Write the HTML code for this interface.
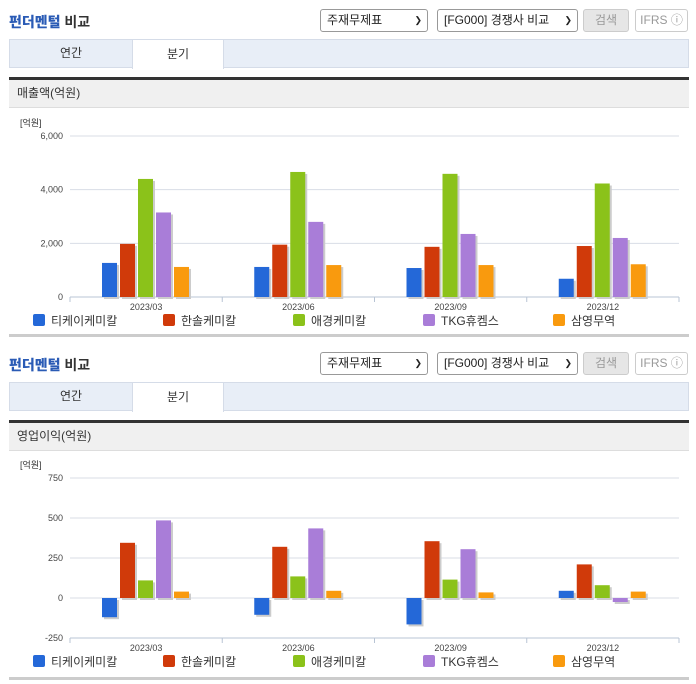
<!DOCTYPE html>
<html><head><meta charset="utf-8">
<style>
*{margin:0;padding:0;box-sizing:border-box}
body{width:696px;height:684px;background:#fff;font-family:"Liberation Sans","Noto Sans CJK KR",sans-serif;position:relative;overflow:hidden}
.abs{position:absolute}
.title{font-size:14px;color:#333;font-weight:bold}
.title b{color:#2a5bb5}
.sel{border:1px solid #999;border-radius:3px;background:#fff;font-size:12px;height:23px;line-height:21px;padding-left:6px;color:#222}
.sel span.ar{position:absolute;right:5px;top:0;font-size:9px}
.btn{border:1px solid #ccc;border-radius:3px;font-size:12px;height:23px;line-height:21px;text-align:center;color:#999}
.tabs{background:#e8eef7;border:1px solid #d5dce8;height:29px}
.tab{position:absolute;top:-1px;height:30px;line-height:28px;text-align:center;font-size:12px;color:#333}
.hdr{background:#f0f0f0;border-top:3px solid #333;height:31px;font-size:12px;color:#333;line-height:27px;padding-left:8px;border-bottom:1px solid #ddd}
.bottomline{height:3px;background:#ccc}
</style></head><body>
<div id="root"></div>
<script>
const categories=['2023/03','2023/06','2023/09','2023/12'];
const seriesNames=['티케이케미칼','한솔케미칼','애경케미칼','TKG휴켐스','삼영무역'];
const colors=['#2468d8','#d03a0a','#8bc21a','#a97dd8','#f99a0e'];
const sales1=[1270,1120,1080,680];
const sales2=[1980,1950,1870,1900];
const sales3=[4400,4660,4590,4230];
const sales4=[3150,2800,2350,2200];
const sales5=[1120,1190,1190,1220];
const salesTicks=[0,2000,4000,6000];
const op1=[-120,-105,-165,45];
const op2=[345,320,355,210];
const op3=[110,135,115,80];
const op4=[485,435,305,-25];
const op5=[40,45,35,40];
const opTicks=[-250,0,250,500,750];

const root=document.getElementById('root');
function section(y0,headerText,series,ticks,yMin,yMax,yTopPx,yBotPx,idx){
  const s=document.createElement('div');
  s.className='abs';s.style.left='0';s.style.top=y0+'px';s.style.width='696px';s.style.height='340px';
  
  
  s.innerHTML=`
  <div class="abs title" style="left:9px;top:12px"><b>펀더멘털</b> 비교</div>
  <div class="abs sel" style="left:320px;top:9px;width:108px">주재무제표<span class="ar">&#10095;</span></div>
  <div class="abs sel" style="left:437px;top:9px;width:141px">[FG000] 경쟁사 비교<span class="ar">&#10095;</span></div>
  <div class="abs btn" style="left:583px;top:9px;width:46px;background:#e6e6e6">검색</div>
  <div class="abs btn" style="left:635px;top:9px;width:53px;background:#fff">IFRS ⓘ</div>
  <div class="abs tabs" style="left:9px;top:39px;width:680px">
    <div class="tab" style="left:0;width:122px">연간</div>
    <div class="tab" style="left:122px;width:92px;background:#fff;border:1px solid #d5dce8;border-bottom:none">분기</div>
  </div>
  <div class="abs hdr" style="left:9px;top:77px;width:680px">${headerText}</div>
  <div class="abs bottomline" style="left:9px;top:334px;width:680px"></div>`;
  root.appendChild(s);
  const NS='http://www.w3.org/2000/svg';
  const svg=document.createElementNS(NS,'svg');
  svg.setAttribute('width','696');svg.setAttribute('height','230');
  svg.style.position='absolute';svg.style.left='0';svg.style.top='110px';
  
  
  s.appendChild(svg);
  const off=110;
  const x0=70,x1=679,cw=(x1-x0)/categories.length;
  const yS=v=>yBotPx-off-(v-yMin)/(yMax-yMin)*(yBotPx-yTopPx);
  function el(t,a){const e=document.createElementNS(NS,t);for(const k in a)e.setAttribute(k,a[k]);svg.appendChild(e);return e;}
  const u=el('text',{x:20,y:yTopPx-off-10,'font-size':9,fill:'#333'});u.textContent='[억원]';
  
  
  ticks.forEach(t=>{
    const y=yS(t);
    if(t!==yMin){const g=el('line',{x1:x0,x2:x1,y1:y,y2:y,stroke:'#d8dde6','stroke-width':1});
    
    }
    const tx=el('text',{x:63,y:y+3,'font-size':9,fill:'#444','text-anchor':'end'});tx.textContent=t.toLocaleString('en-US');
    
    
  });
  const zy=yS(yMin);
  const ax=el('line',{x1:x0,x2:x1,y1:zy,y2:zy,stroke:'#b8c4d4','stroke-width':1});
  
  
  for(let i=0;i<=categories.length;i++){const tx=x0+i*cw;el('line',{x1:tx,x2:tx,y1:zy,y2:zy+5,stroke:'#b8c4d4'});}
  categories.forEach((c,i)=>{
    const t=el('text',{x:x0+cw*(i+0.5),y:zy+13,'font-size':9,fill:'#444','text-anchor':'middle'});t.textContent=c;
    
    
    series.forEach((arr,j)=>{
      const v=arr[i];const bx=x0+cw*i+32+j*18;const y0v=yS(0),yv=yS(v);
      const top=Math.min(y0v,yv),h=Math.abs(y0v-yv);
      el('rect',{x:bx+2,y:top+2,width:15,height:h,fill:'#ccc'});
      const r=el('rect',{x:bx,y:top,width:15,height:h,fill:colors[j]});
      
      
    });
  });
  const ly=zy+28;
  seriesNames.forEach((n,j)=>{
    const lx=33+j*130;
    const r=el('rect',{x:lx,y:ly-11,width:12,height:12,rx:2,fill:colors[j]});
    
    
    const t=el('text',{x:lx+18,y:ly,'font-size':12,fill:'#333'});t.textContent=n;
    
    
  });
}
section(0,'매출액(억원)',[sales1,sales2,sales3,sales4,sales5],salesTicks,0,6000,136,297,1);
section(343,'영업이익(억원)',[op1,op2,op3,op4,op5],opTicks,-250,750,135,295,2);
</script>
</body></html>
